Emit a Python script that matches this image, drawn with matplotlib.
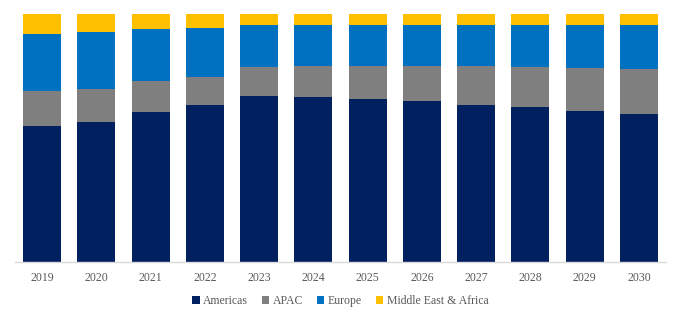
import matplotlib
matplotlib.use("Agg")
import matplotlib.pyplot as plt
import numpy as np

years = ["2019", "2020", "2021", "2022", "2023", "2024", "2025", "2026", "2027", "2028", "2029", "2030"]
americas = [54.7, 56.5, 60.5, 63.2, 66.9, 66.5, 65.6, 64.8, 63.4, 62.4, 60.9, 59.8]
apac = [14.1, 13.2, 12.5, 11.5, 11.7, 12.5, 13.5, 14.1, 15.5, 16.0, 17.2, 18.0]
europe = [23.2, 23.0, 20.7, 19.6, 16.8, 16.4, 16.5, 16.8, 16.5, 17.1, 17.3, 17.6]
mea = [7.9, 7.4, 6.3, 5.6, 4.6, 4.6, 4.3, 4.3, 4.6, 4.6, 4.6, 4.6]

series = [("Americas", americas, "#002060"),
          ("APAC", apac, "#7F7F7F"),
          ("Europe", europe, "#0070C0"),
          ("Middle East & Africa", mea, "#FFC000")]

plt.rcParams['font.family'] = ['Liberation Serif', 'DejaVu Serif']

fig = plt.figure(figsize=(6.81, 3.22), dpi=100)
ax = fig.add_axes([0.022, 0.186, 0.956, 0.771])

x = np.arange(len(years))
bottom = np.zeros(len(years))
for name, vals, color in series:
    v = np.array(vals, dtype=float)
    ax.bar(x, v, bottom=bottom, width=0.7, color=color, label=name, linewidth=0)
    bottom += v

ax.set_xlim(-0.5, len(years) - 0.5)
ax.set_ylim(0, 100)
ax.set_xticks(x)
ax.set_xticklabels(years, fontsize=8.5, color="#595959")
ax.tick_params(axis='x', length=0, pad=7)
ax.set_yticks([])
for s in ["top", "left", "right"]:
    ax.spines[s].set_visible(False)
ax.spines["bottom"].set_color("#D9D9D9")
ax.spines["bottom"].set_linewidth(1.0)

leg = ax.legend(loc="center", bbox_to_anchor=(0.5, -0.158), ncol=4, frameon=False,
                fontsize=8.5, handlelength=0.6, handleheight=0.6, handletextpad=0.3,
                columnspacing=1.2)
for t in leg.get_texts():
    t.set_color("#595959")

fig.savefig("out.png", dpi=100)
